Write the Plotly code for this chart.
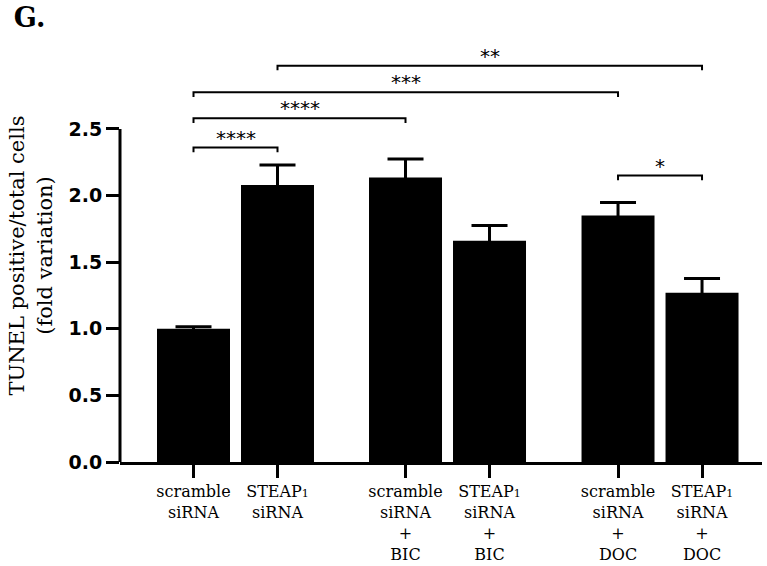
import plotly.graph_objects as go

# ---- data ----
one = "<span style='font-size:11px'>1</span>"
tick_labels = [
    "scramble<br>siRNA",
    f"STEAP{one}<br>siRNA",
    "scramble<br>siRNA<br>+<br>BIC",
    f"STEAP{one}<br>siRNA<br>+<br>BIC",
    "scramble<br>siRNA<br>+<br>DOC",
    f"STEAP{one}<br>siRNA<br>+<br>DOC",
]
x_pos = [0, 1, 2.524, 3.524, 5.054, 6.054]
means = [1.00, 2.08, 2.135, 1.66, 1.85, 1.27]
sems = [0.015, 0.15, 0.14, 0.115, 0.097, 0.108]
y_ticks = [0.0, 0.5, 1.0, 1.5, 2.0, 2.5]
y_tick_text = ["0.0", "0.5", "1.0", "1.5", "2.0", "2.5"]
# significance brackets: (left bar, right bar, level, label)
brackets = [
    (0, 1, 2.36, "****"),
    (0, 2, 2.58, "****"),
    (0, 4, 2.775, "***"),
    (1, 5, 2.975, "**"),
    (4, 5, 2.15, "*"),
]

fig = go.Figure()
fig.add_trace(go.Bar(
    x=x_pos, y=means, width=0.869,
    marker=dict(color="black", line=dict(width=0)),
    error_y=dict(type="data", array=sems, symmetric=True,
                 color="black", thickness=3, width=18),
    showlegend=False,
))

shapes = [dict(type="line", xref="paper", yref="y", x0=0, x1=0, y0=0, y1=2.5,
               line=dict(color="black", width=3))]
annotations = []
drop = 0.035
for a, b, lvl, lab in brackets:
    xa, xb = x_pos[a], x_pos[b]
    shapes.append(dict(
        type="path", xref="x", yref="y",
        path=f"M {xa},{lvl-drop} L {xa},{lvl} L {xb},{lvl} L {xb},{lvl-drop}",
        line=dict(color="black", width=2),
    ))
    annotations.append(dict(
        x=(xa + xb) / 2, y=lvl, xref="x", yref="y", text=lab, showarrow=False,
        yanchor="bottom", yshift=-4,
        font=dict(family="DejaVu Sans", size=20, color="black"),
    ))

fig.update_layout(
    width=767, height=566,
    margin=dict(l=120, r=5, t=49, b=104),
    paper_bgcolor="white", plot_bgcolor="white",
    shapes=shapes, annotations=annotations,
    title=dict(text="<b>G.</b>", xref="container", yref="container",
               x=0.018, y=0.985, xanchor="left", yanchor="top",
               font=dict(family="DejaVu Serif", size=27, color="black")),
    xaxis=dict(
        range=[-0.875, 6.768], showgrid=False, zeroline=False,
        showline=True, linecolor="black", linewidth=3, automargin=False,
        ticks="outside", ticklen=13, tickwidth=3, tickcolor="black",
        tickvals=x_pos, ticktext=tick_labels, ticklabelstandoff=0,
        tickfont=dict(family="DejaVu Serif", size=16, color="black"),
    ),
    yaxis=dict(
        range=[0, 3.1], showgrid=False, zeroline=False, showline=False,
        automargin=False,
        ticks="outside", ticklen=13, tickwidth=3, tickcolor="black",
        tickvals=y_ticks, ticktext=y_tick_text,
        tickfont=dict(family="DejaVu Sans", size=19, color="black", weight=700),
        title=dict(text="TUNEL positive/total cells<br>(fold variation)",
                   font=dict(family="DejaVu Serif", size=21, color="black"),
                   standoff=10),
    ),
)

fig.write_html("out.html")
